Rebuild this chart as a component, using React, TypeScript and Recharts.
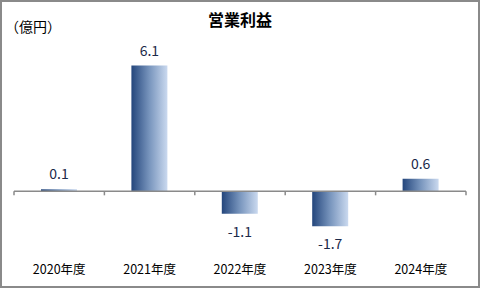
import React from 'react';
import { BarChart, Bar, XAxis, YAxis, ReferenceLine, LabelList } from 'recharts';

const categories = ['2020年度', '2021年度', '2022年度', '2023年度', '2024年度'];
const profit = [0.1, 6.1, -1.1, -1.7, 0.6];
const title = '営業利益';
const unitLabel = '（億円）';

const data = categories.map((c, i) => ({ name: c, value: profit[i] }));

const FONT = '"Meiryo", "Noto Sans CJK JP", "Noto Sans", sans-serif';

const ValueLabel = (props: any) => {
  const { x, y, width, height, value } = props;
  const top = Math.min(y, y + height);
  const bottom = Math.max(y, y + height);
  const cy = value >= 0 ? top - 16 : bottom + 17;
  return (
    <text
      x={x + width / 2}
      y={cy}
      textAnchor="middle"
      dominantBaseline="central"
      fontSize={14}
      fill="#1c2a4a"
      fontFamily={FONT}
    >
      {value.toFixed(1)}
    </text>
  );
};

export default function App() {
  return (
    <div
      style={{
        position: 'absolute',
        left: 0,
        top: 0,
        width: 480,
        height: 288,
        boxSizing: 'border-box',
        border: '2px solid #8a8a8a',
        background: '#fff',
        fontFamily: FONT,
      }}
    >
      <div
        style={{
          position: 'absolute',
          left: 0,
          top: 7,
          width: 476,
          textAlign: 'center',
          fontSize: 16,
          fontWeight: 'bold',
          color: '#000',
          lineHeight: '20px',
        }}
      >
        {title}
      </div>
      <div
        style={{
          position: 'absolute',
          left: 3,
          top: 15,
          fontSize: 14,
          color: '#000',
          lineHeight: '18px',
        }}
      >
        {unitLabel}
      </div>
      <div style={{ position: 'absolute', left: -2, top: -2 }}>
        <BarChart
          width={480}
          height={288}
          data={data}
          margin={{ top: 47, right: 14, bottom: 5, left: 14 }}
        >
          <defs>
            <linearGradient id="barGrad" x1="0" y1="0" x2="1" y2="0">
              <stop offset="0%" stopColor="#24467c" />
              <stop offset="50%" stopColor="#7895bd" />
              <stop offset="100%" stopColor="#cad9ef" />
            </linearGradient>
          </defs>
          <XAxis
            dataKey="name"
            axisLine={false}
            tickLine={false}
            height={30}
            tickMargin={6}
            interval={0}
            tick={{ fontSize: 12.5, fill: '#000', fontFamily: FONT }}
          />
          <YAxis hide domain={[-3, 7]} type="number" />
          <ReferenceLine y={0} stroke="#8a8a8a" strokeWidth={1.5} />
          {categories.map((c) => (
            <ReferenceLine
              key={c}
              position="start"
              segment={[
                { x: c, y: 0 },
                { x: c, y: -0.2 },
              ]}
              stroke="#8a8a8a"
              strokeWidth={1.5}
            />
          ))}
          <ReferenceLine
            position="end"
            segment={[
              { x: categories[categories.length - 1], y: 0 },
              { x: categories[categories.length - 1], y: -0.2 },
            ]}
            stroke="#8a8a8a"
            strokeWidth={1.5}
          />
          <Bar dataKey="value" barSize={36} fill="url(#barGrad)" isAnimationActive={false}>
            <LabelList dataKey="value" content={<ValueLabel />} />
          </Bar>
        </BarChart>
      </div>
    </div>
  );
}
